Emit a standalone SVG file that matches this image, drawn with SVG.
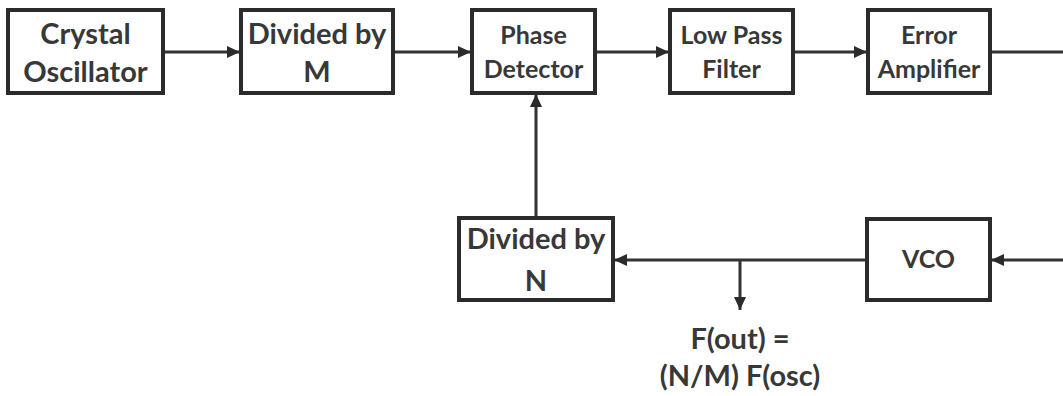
<svg xmlns="http://www.w3.org/2000/svg" width="1063" height="396" viewBox="0 0 1063 396">
<style>
.box{fill:#fff;stroke:#2b2b2b;stroke-width:4}
.t{font-family:Lato,"Open Sans",sans-serif;font-weight:bold;fill:#383838;text-anchor:middle}
.big{font-size:29px}
.dv{font-size:29px}
.sm{font-size:25px}
.out{font-size:29px}
.c{stroke:#333;stroke-width:3;fill:none}
</style>
<defs>
<marker id="ah" markerUnits="userSpaceOnUse" markerWidth="14" markerHeight="12" refX="13" refY="6" orient="auto">
<path d="M0,0 L13,6 L0,12 Z" fill="#2b2b2b"/>
</marker>
</defs>
<rect width="1063" height="396" fill="#fff"/>
<g id="connectors">
<line class="c" x1="163" y1="52" x2="240" y2="52" marker-end="url(#ah)"/>
<line class="c" x1="393" y1="52" x2="471" y2="52" marker-end="url(#ah)"/>
<line class="c" x1="595" y1="52" x2="669" y2="52" marker-end="url(#ah)"/>
<line class="c" x1="793" y1="52" x2="867" y2="52" marker-end="url(#ah)"/>
<line class="c" x1="990" y1="52" x2="1063" y2="52"/>
<line class="c" x1="1063" y1="260" x2="991" y2="260" marker-end="url(#ah)"/>
<line class="c" x1="867" y1="260" x2="614" y2="260" marker-end="url(#ah)"/>
<line class="c" x1="740" y1="260" x2="740" y2="310" marker-end="url(#ah)"/>
<line class="c" x1="536" y1="218" x2="536" y2="94" marker-end="url(#ah)"/>
</g>
<g id="crystal">
<rect class="box" x="8" y="10" width="155" height="83"/>
<text class="t big" x="85.5" y="44">Crystal</text>
<text class="t big" x="85.5" y="82">Oscillator</text>
</g>
<g id="divM">
<rect class="box" x="241" y="10" width="152" height="83"/>
<text class="t dv" x="317" y="44">Divided by</text>
<text class="t dv" x="317" y="82">M</text>
</g>
<g id="phase">
<rect class="box" x="472" y="10" width="123" height="83"/>
<text class="t sm" x="533.5" y="44">Phase</text>
<text class="t sm" x="533.5" y="78">Detector</text>
</g>
<g id="lpf">
<rect class="box" x="670" y="10" width="123" height="83"/>
<text class="t sm" x="731.5" y="44">Low Pass</text>
<text class="t sm" x="731.5" y="78">Filter</text>
</g>
<g id="err">
<rect class="box" x="868" y="10" width="122" height="83"/>
<text class="t sm" x="929" y="44">Error</text>
<text class="t sm" x="929" y="78">Amplifier</text>
</g>
<g id="divN">
<rect class="box" x="459" y="218" width="154" height="82"/>
<text class="t dv" x="536" y="249">Divided by</text>
<text class="t dv" x="536" y="291">N</text>
</g>
<g id="vco">
<rect class="box" x="867" y="219" width="123" height="81"/>
<text class="t sm" x="928.5" y="268">VCO</text>
</g>
<g id="output">
<text class="t out" x="740" y="349">F(out) =</text>
<text class="t out" x="740" y="386">(N/M) F(osc)</text>
</g>
</svg>
